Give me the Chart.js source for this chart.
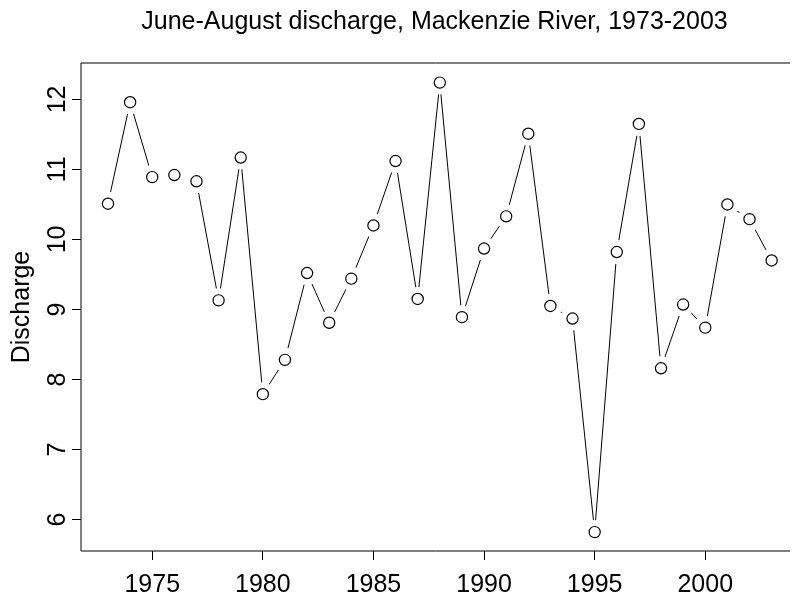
<!DOCTYPE html>
<html>
<head>
<meta charset="utf-8">
<script src="https://cdn.jsdelivr.net/npm/chart.js@4/dist/chart.umd.min.js"></script>
<style>
  html, body { margin: 0; padding: 0; background: #fff; overflow: hidden; }
  #wrap { width: 800px; height: 600px; }
</style>
</head>
<body>
<div id="wrap"><canvas id="c" width="800" height="600"></canvas></div>
<script>
const titleText = 'June-August discharge, Mackenzie River, 1973-2003';
const yAxisLabel = 'Discharge';
const years = [1973,1974,1975,1976,1977,1978,1979,1980,1981,1982,1983,1984,1985,1986,1987,1988,
               1989,1990,1991,1992,1993,1994,1995,1996,1997,1998,1999,2000,2001,2002,2003];
const discharge = [10.51,11.96,10.89,10.92,10.83,9.13,11.17,7.79,8.28,9.52,8.81,9.44,10.20,11.12,9.15,12.24,
                   8.89,9.87,10.33,11.51,9.05,8.87,5.82,9.82,11.65,8.16,9.07,8.74,10.50,10.29,9.70];
const xTicks = [1975,1980,1985,1990,1995,2000];
const yTicks = [6,7,8,9,10,11,12];

const FONT = '"Liberation Sans", Arial, Helvetica, sans-serif';
const points = years.map((y, i) => ({x: y, y: discharge[i]}));

const boxAndYLabels = {
  id: 'boxAndYLabels',
  afterDraw(chart) {
    const ctx = chart.ctx;
    const a = chart.chartArea;
    ctx.save();
    ctx.strokeStyle = '#000';
    ctx.lineWidth = 1;
    ctx.beginPath();
    ctx.moveTo(a.right + 2, a.top);
    ctx.lineTo(a.left, a.top);
    ctx.lineTo(a.left, a.bottom);
    ctx.lineTo(a.right + 2, a.bottom);
    ctx.stroke();
    const ys = chart.scales.y;
    ctx.fillStyle = '#000';
    ctx.font = '25px ' + FONT;
    ctx.textAlign = 'center';
    ctx.textBaseline = 'alphabetic';
    ys.ticks.forEach(t => {
      const py = ys.getPixelForValue(t.value);
      ctx.save();
      ctx.translate(64.5, py);
      ctx.rotate(-Math.PI / 2);
      ctx.fillText(String(t.value), 0, 0);
      ctx.restore();
    });
    ctx.restore();
  }
};

new Chart(document.getElementById('c'), {
  type: 'line',
  data: {
    datasets: [
      {
        label: 'circles',
        data: points,
        showLine: false,
        pointRadius: 5.6,
        pointBorderWidth: 1.2,
        pointBorderColor: '#000',
        pointBackgroundColor: '#fff',
        order: 0
      },
      {
        label: 'line',
        data: points,
        showLine: true,
        borderColor: '#000',
        borderWidth: 1,
        tension: 0,
        fill: false,
        pointRadius: 12,
        pointBorderWidth: 0,
        pointBorderColor: '#fff',
        pointBackgroundColor: '#fff',
        order: 1
      }
    ]
  },
  options: {
    responsive: false,
    animation: false,
    events: [],
    layout: { padding: { left: 0, right: 0, top: 0, bottom: 0 } },
    plugins: {
      legend: { display: false },
      tooltip: { enabled: false },
      title: {
        display: true,
        text: titleText,
        fullSize: false,
        color: '#000',
        font: { family: FONT, size: 25, weight: 'normal', lineHeight: 1.2 },
        padding: { top: 7, bottom: 26 }
      }
    },
    scales: {
      x: {
        type: 'linear',
        min: 1971.78,
        max: 2003.74,
        afterBuildTicks(scale) { scale.ticks = xTicks.map(v => ({value: v})); },
        afterFit(scale) { scale.height = 49; },
        ticks: {
          color: '#000',
          font: { family: FONT, size: 25 },
          padding: 10,
          maxRotation: 0,
          autoSkip: false,
          callback: v => String(v)
        },
        grid: { drawOnChartArea: false, drawTicks: true, tickLength: 9, color: '#000', lineWidth: 1 },
        border: { display: false }
      },
      y: {
        type: 'linear',
        min: 5.55,
        max: 12.52,
        afterBuildTicks(scale) { scale.ticks = yTicks.map(v => ({value: v})); },
        afterFit(scale) { scale.width = 81; },
        ticks: { display: false },
        grid: { drawOnChartArea: false, drawTicks: true, tickLength: 9, color: '#000', lineWidth: 1 },
        border: { display: false },
        title: {
          display: true,
          text: yAxisLabel,
          color: '#000',
          font: { family: FONT, size: 25, weight: 'normal', lineHeight: 1.2 },
          padding: { top: 7, bottom: 0 }
        }
      }
    }
  },
  plugins: [boxAndYLabels]
});
</script>
</body>
</html>
